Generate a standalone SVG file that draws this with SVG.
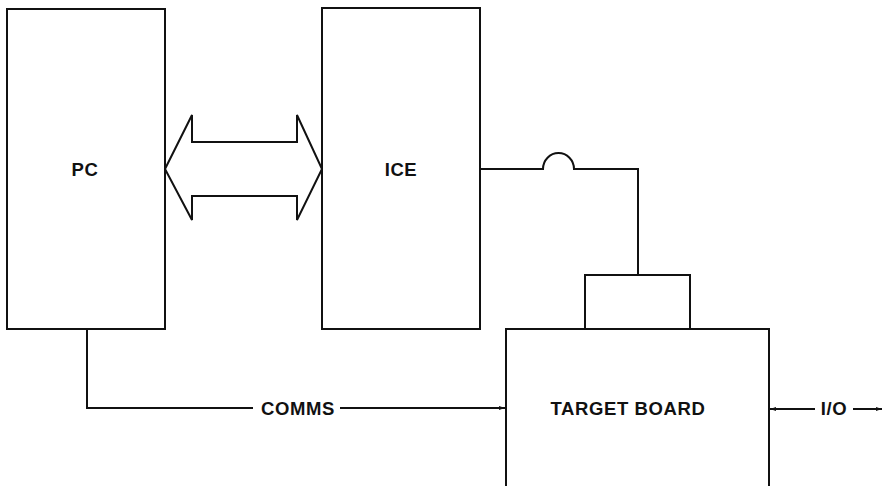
<svg xmlns="http://www.w3.org/2000/svg" width="884" height="486" viewBox="0 0 884 486">
<style>
.box{fill:#fff;stroke:#111;stroke-width:2}
.ln{fill:none;stroke:#111;stroke-width:2}
.lbl{font-family:"Liberation Sans",Arial,sans-serif;font-weight:bold;font-size:18.5px;fill:#111;letter-spacing:0.6px}
</style>
<defs>
<marker id="ah" viewBox="0 0 10 10" refX="10" refY="5" markerWidth="6" markerHeight="6" orient="auto" markerUnits="userSpaceOnUse">
<path d="M0,1.5 L10,5 L0,8.5 Z" fill="#111"/>
</marker>
</defs>
<rect width="884" height="486" fill="#fff"/>
<g id="connectors">
<path class="ln" d="M165,169 L192,115 L192,142 L297,142 L297,115 L322,169 L297,220 L297,196 L192,196 L192,220 Z" stroke-linejoin="miter"/>
<path class="ln" d="M480,169 L543,169 A15.5,16 0 0 1 574,169 L638,169 L638,275"/>
<path class="ln" d="M87,329 L87,408 L253,408"/>
<path class="ln" d="M340,408 L505,408" marker-end="url(#ah)"/>
<path class="ln" d="M815,409 L770,409" marker-end="url(#ah)"/>
<path class="ln" d="M853,409 L882,409" marker-end="url(#ah)"/>
</g>
<g id="pc">
<rect class="box" x="7" y="9" width="158" height="320"/>
<text class="lbl" x="85" y="176" text-anchor="middle">PC</text>
</g>
<g id="ice">
<rect class="box" x="322" y="8" width="158" height="321"/>
<text class="lbl" x="401" y="176" text-anchor="middle">ICE</text>
</g>
<g id="target-board">
<path class="ln" d="M506,487 L506,329 L769,329 L769,487"/>
<text class="lbl" x="628" y="415" text-anchor="middle">TARGET BOARD</text>
</g>
<g id="probe">
<rect class="box" x="585" y="275" width="105" height="54"/>
</g>
<g id="comms-label">
<text class="lbl" x="298" y="415" text-anchor="middle">COMMS</text>
</g>
<g id="io-label">
<text class="lbl" x="834" y="415" text-anchor="middle">I/O</text>
</g>
</svg>
